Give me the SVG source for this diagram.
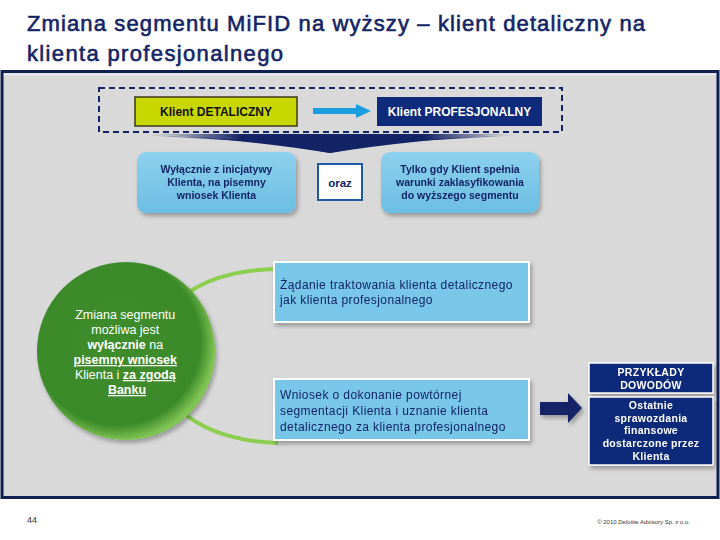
<svg xmlns="http://www.w3.org/2000/svg" width="720" height="540" viewBox="0 0 720 540">
<defs>
<style>
.t{font-family:"Liberation Sans",Arial,sans-serif}
.title{font-size:22px;fill:#132466;stroke:#132466;stroke-width:0.6px}
.lb{fill:#78c6e8;stroke:#ffffff;stroke-width:2}
.small{font-size:10.5px;font-weight:bold;fill:#132466}
.body{font-size:12px;fill:#132466;letter-spacing:0.4px}
.wb{font-size:10.5px;font-weight:bold;fill:#ffffff;letter-spacing:0.3px}
.ct{font-size:12.5px;fill:#ffffff}
.arc{fill:none;stroke:#8ccf50;stroke-width:4}
</style>
<radialGradient id="gc" cx="0.45" cy="0.45" r="0.55">
<stop offset="0" stop-color="#3d8c2b"/>
<stop offset="0.85" stop-color="#3b8a2a"/>
<stop offset="1" stop-color="#7fc352"/>
</radialGradient>
<linearGradient id="lbg" x1="0" y1="0" x2="0" y2="1">
<stop offset="0" stop-color="#8dd1ee"/>
<stop offset="1" stop-color="#6bbde3"/>
</linearGradient>
<linearGradient id="sw" x1="0" y1="0" x2="1" y2="0">
<stop offset="0" stop-color="#132466" stop-opacity="0"/>
<stop offset="0.25" stop-color="#132466"/>
<stop offset="0.75" stop-color="#132466"/>
<stop offset="1" stop-color="#132466" stop-opacity="0"/>
</linearGradient>
<filter id="sh" x="-20%" y="-20%" width="140%" height="150%">
<feDropShadow dx="2" dy="3" stdDeviation="2" flood-color="#000" flood-opacity="0.3"/>
</filter>
</defs>
<rect width="720" height="540" fill="#ffffff"/>
<g id="title" class="t title">
<text x="27" y="31" textLength="618" lengthAdjust="spacing">Zmiana segmentu MiFID na wyższy – klient detaliczny na</text>
<text x="27" y="61" textLength="256" lengthAdjust="spacing">klienta profesjonalnego</text>
</g>
<rect id="panel" x="2" y="71.5" width="716" height="426" fill="#d9d9d9" stroke="#0f1f4f" stroke-width="3"/>
<line x1="4" y1="74.5" x2="716" y2="74.5" stroke="#e8e8ee" stroke-width="2"/>
<rect x="99" y="88" width="463" height="44" fill="none" stroke="#132466" stroke-width="2" stroke-dasharray="6,4"/>
<path d="M140,135 Q250,137 330,153 Q410,137 525,135 Q420,141 330,146 Q240,141 140,135 Z" fill="url(#sw)"/>
<path d="M150,134 Q250,140 330,153 Q410,140 515,134 Z" fill="url(#sw)"/>
<g id="connectors">
<line x1="313" y1="111" x2="358" y2="111" stroke="#1a9ee0" stroke-width="6"/>
<polygon points="356,104 371,111 356,118" fill="#1a9ee0"/>
<path class="arc" d="M189,292 Q222,270 276,269"/>
<path class="arc" d="M181,411 Q216,441 278,443"/>
<path d="M540,402 L568,402 L568,393 L582,408 L568,423 L568,415 L540,415 Z" fill="#132466" filter="url(#sh)"/>
</g>
<g id="n-detal">
<rect x="135" y="97" width="162" height="29" fill="#c9d700" stroke="#3a3a1a" stroke-width="1.5"/>
<text class="t" x="216" y="116" text-anchor="middle" font-size="12" font-weight="bold" fill="#111">Klient DETALICZNY</text>
</g>
<g id="n-prof">
<rect x="377" y="97" width="165" height="29" fill="#0e2a7a"/>
<text class="t" x="459.5" y="116" text-anchor="middle" font-size="12" font-weight="bold" fill="#fff">Klient PROFESJONALNY</text>
</g>
<g id="n-inicj" filter="url(#sh)">
<rect x="137" y="152" width="159" height="61" rx="9" fill="url(#lbg)"/>
<text class="t small" text-anchor="middle"><tspan x="216.5" y="173">Wyłącznie z inicjatywy</tspan><tspan x="216.5" y="186">Klienta, na pisemny</tspan><tspan x="216.5" y="199">wniosek Klienta</tspan></text>
</g>
<g id="n-oraz">
<rect x="318" y="164" width="44" height="36" fill="#fff" stroke="#1e5aa8" stroke-width="2"/>
<text class="t" x="340" y="187" text-anchor="middle" font-size="11.5" font-weight="bold" fill="#132466">oraz</text>
</g>
<g id="n-warunki" filter="url(#sh)">
<rect x="381" y="152" width="158" height="61" rx="9" fill="url(#lbg)"/>
<text class="t small" text-anchor="middle"><tspan x="460" y="173">Tylko gdy Klient spełnia</tspan><tspan x="460" y="186">warunki zaklasyfikowania</tspan><tspan x="460" y="199">do wyższego segmentu</tspan></text>
</g>
<g id="n-circle">
<circle cx="126" cy="351" r="89" fill="url(#gc)" filter="url(#sh)"/>
<text class="t ct" text-anchor="middle">
<tspan x="127" y="319">Zmiana segmentu</tspan>
<tspan x="127" y="334">możliwa jest</tspan>
<tspan x="127" y="349"><tspan font-weight="bold">wyłącznie</tspan> na</tspan>
<tspan x="127" y="364" font-weight="bold" text-decoration="underline">pisemny wniosek</tspan>
<tspan x="127" y="379">Klienta i <tspan font-weight="bold" text-decoration="underline">za zgodą</tspan></tspan>
<tspan x="127" y="394" font-weight="bold" text-decoration="underline">Banku</tspan>
</text>
</g>
<g id="n-zadanie" filter="url(#sh)">
<rect x="274" y="262" width="255" height="60" class="lb"/>
<text class="t body"><tspan x="280" y="289">Żądanie traktowania klienta detalicznego</tspan><tspan x="280" y="304">jak klienta profesjonalnego</tspan></text>
</g>
<g id="n-wniosek" filter="url(#sh)">
<rect x="274" y="379" width="255" height="61" class="lb"/>
<text class="t body"><tspan x="280" y="399">Wniosek o dokonanie powtórnej</tspan><tspan x="280" y="415">segmentacji Klienta i uznanie klienta</tspan><tspan x="280" y="431">detalicznego za klienta profesjonalnego</tspan></text>
</g>
<g id="n-przyklady" filter="url(#sh)">
<rect x="589" y="363" width="124" height="30" fill="#0e2a7a" stroke="#fff" stroke-width="1.5"/>
<text class="t wb" text-anchor="middle"><tspan x="651" y="376">PRZYKŁADY</tspan><tspan x="651" y="389">DOWODÓW</tspan></text>
</g>
<g id="n-ostatnie" filter="url(#sh)">
<rect x="589" y="397" width="124" height="68" fill="#0e2a7a" stroke="#fff" stroke-width="1.5"/>
<text class="t wb" text-anchor="middle"><tspan x="651" y="409">Ostatnie</tspan><tspan x="651" y="422">sprawozdania</tspan><tspan x="651" y="434">finansowe</tspan><tspan x="651" y="447">dostarczone przez</tspan><tspan x="651" y="460">Klienta</tspan></text>
</g>
<g id="footer">
<text class="t" x="27" y="523" font-size="9" fill="#333">44</text>
<text class="t" x="690" y="524" font-size="6" fill="#333" text-anchor="end">© 2010 Deloitte Advisory Sp. z o.o.</text>
</g>
</svg>
